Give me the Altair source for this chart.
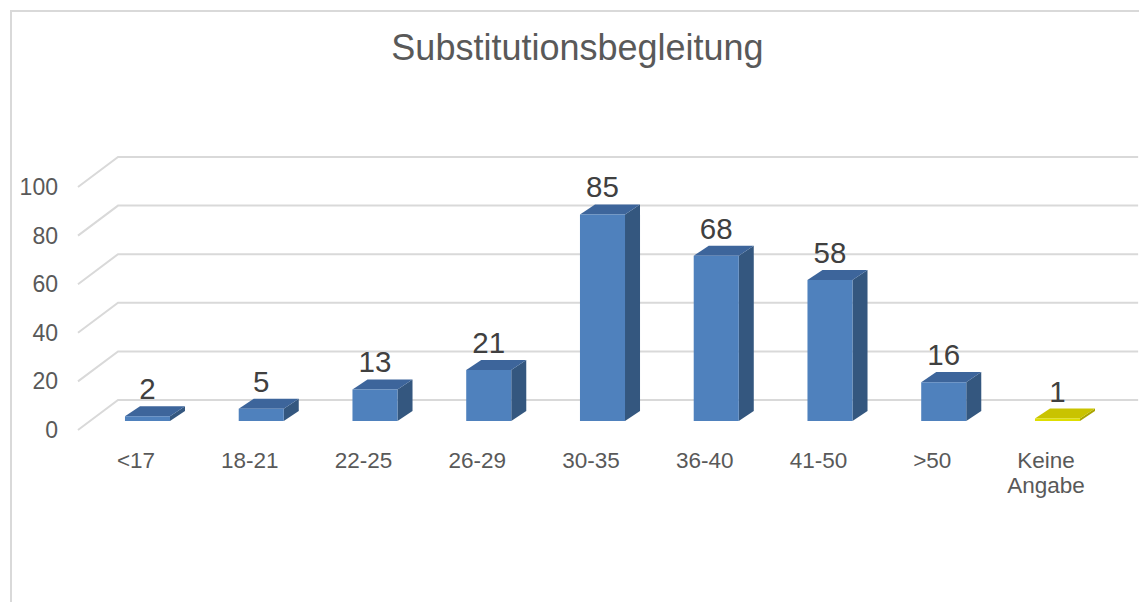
import altair as alt
import pandas as pd

# ---- data ----
categories = ["<17", "18-21", "22-25", "26-29", "30-35", "36-40", "41-50", ">50", "Keine Angabe"]
values = [2, 5, 13, 21, 85, 68, 58, 16, 1]
y_ticks = [0, 20, 40, 60, 80, 100]
title_text = "Substitutionsbegleitung"

# ---- style / pseudo-3D geometry constants (in scale units) ----
W, H = 1129, 592
X_DOMAIN = [-1.1077, 8.8176]
Y_DOMAIN = [-70.78, 172.84]
BAR_L, BAR_R = -0.097, 0.299      # front face relative to category index
DEPTH_X, DEPTH_Y = 0.132, 4.12    # bar depth
BASE = 3.7                        # bar base above front floor
GRID_X0, GRID_DX, GRID_DY, GRID_X1 = -0.51, 0.352, 12.35, 8.81
FONT = "Liberation Sans"
GRID_COLOR = "#d9d9d9"
BLUE = {"front": "#4f81bd", "side": "#34577f", "top": "#3d659b"}
YELLOW = {"front": "#dede00", "side": "#a9a400", "top": "#c9c300"}
SPECIAL = "Keine Angabe"

xs = alt.Scale(domain=X_DOMAIN, nice=False, zero=False)
ys = alt.Scale(domain=Y_DOMAIN, nice=False, zero=False)

front_rows, side_rows, top_rows, label_rows = [], [], [], []
for i, (c, v) in enumerate(zip(categories, values)):
    front_rows.append(dict(cat=c, x=i + BAR_L, x2=i + BAR_R, y=BASE, y2=BASE + v))
    side_rows.append(dict(cat=c, x=i + BAR_R, lo=BASE, hi=BASE + v))
    side_rows.append(dict(cat=c, x=i + BAR_R + DEPTH_X, lo=BASE + DEPTH_Y, hi=BASE + DEPTH_Y + v))
    top_rows.append(dict(cat=c, y=BASE + v, xl=i + BAR_L, xr=i + BAR_R))
    top_rows.append(dict(cat=c, y=BASE + DEPTH_Y + v, xl=i + BAR_L + DEPTH_X, xr=i + BAR_R + DEPTH_X))
    label_rows.append(dict(cat=c, val=v, x=i + (BAR_L + BAR_R) / 2, y=BASE + DEPTH_Y + v, xi=i))

grid_rows = []
for t in y_ticks:
    grid_rows.append(dict(t=t, x=GRID_X0, y=t))
    grid_rows.append(dict(t=t, x=GRID_X0 + GRID_DX, y=t + GRID_DY))
    grid_rows.append(dict(t=t, x=GRID_X1, y=t + GRID_DY))

df_front = pd.DataFrame(front_rows)
df_side = pd.DataFrame(side_rows)
df_top = pd.DataFrame(top_rows)
df_lab = pd.DataFrame(label_rows)
df_grid = pd.DataFrame(grid_rows)
df_ticks = pd.DataFrame({"t": y_ticks})


def col(part):
    return alt.condition(f"datum.cat == '{SPECIAL}'", alt.value(YELLOW[part]), alt.value(BLUE[part]))


grid = alt.Chart(df_grid).mark_line(color=GRID_COLOR, strokeWidth=2).encode(
    x=alt.X("x:Q", scale=xs, axis=None),
    y=alt.Y("y:Q", scale=ys, axis=None),
    detail="t:N",
)

ylabels = alt.Chart(df_ticks).mark_text(
    align="right", baseline="middle", dx=-20, dy=1, font=FONT, fontSize=23, color="#595959"
).encode(
    x=alt.X(datum=GRID_X0, scale=xs, axis=None),
    y=alt.Y("t:Q", scale=ys, axis=None),
    text="t:Q",
)

side = alt.Chart(df_side).mark_area(strokeWidth=0).encode(
    x=alt.X("x:Q", scale=xs, axis=None),
    y=alt.Y("lo:Q", scale=ys, axis=None),
    y2="hi:Q",
    detail="cat:N",
    color=col("side"),
)

top = alt.Chart(df_top).mark_area(orient="horizontal", strokeWidth=0).encode(
    y=alt.Y("y:Q", scale=ys, axis=None),
    x=alt.X("xl:Q", scale=xs, axis=None),
    x2="xr:Q",
    detail="cat:N",
    color=col("top"),
)

front = alt.Chart(df_front).mark_rect().encode(
    x=alt.X("x:Q", scale=xs, axis=None),
    x2="x2:Q",
    y=alt.Y("y:Q", scale=ys, axis=None),
    y2="y2:Q",
    color=col("front"),
)

vlabels = alt.Chart(df_lab).mark_text(
    align="center", baseline="alphabetic", dy=-7, font=FONT, fontSize=29.5, color="#404040"
).encode(
    x=alt.X("x:Q", scale=xs, axis=None),
    y=alt.Y("y:Q", scale=ys, axis=None),
    text="val:Q",
)

xlabels = alt.Chart(df_lab).transform_calculate(
    lab="replace(datum.cat, ' ', '\\n')"
).mark_text(
    align="center", baseline="alphabetic", dy=38, lineBreak="\n", lineHeight=25,
    font=FONT, fontSize=22.5, color="#595959"
).encode(
    x=alt.X("xi:Q", scale=xs, axis=None),
    y=alt.Y(datum=0, scale=ys, axis=None),
    text="lab:N",
)

border_top = alt.Chart(df_ticks).mark_rule(color=GRID_COLOR, strokeWidth=2).encode(
    x=alt.value(0), x2=alt.value(W), y=alt.value(1)
)
border_left = alt.Chart(df_ticks).mark_rule(color=GRID_COLOR, strokeWidth=2).encode(
    x=alt.value(1), y=alt.value(0), y2=alt.value(H)
)

chart = alt.layer(
    border_top, border_left, grid, ylabels, side, top, front, vlabels, xlabels
).properties(
    width=W,
    height=H,
    autosize=alt.AutoSizeParams(type="none"),
    padding={"left": 2, "top": 2, "right": 0, "bottom": 0},
    title=alt.TitleParams(
        title_text, anchor="middle", fontSize=36, font=FONT, fontWeight="normal",
        color="#595959", baseline="alphabetic", offset=-87, dx=3,
    ),
).configure_view(strokeWidth=0)

chart.save("out.html", embed_options={"renderer": "svg", "actions": False})
